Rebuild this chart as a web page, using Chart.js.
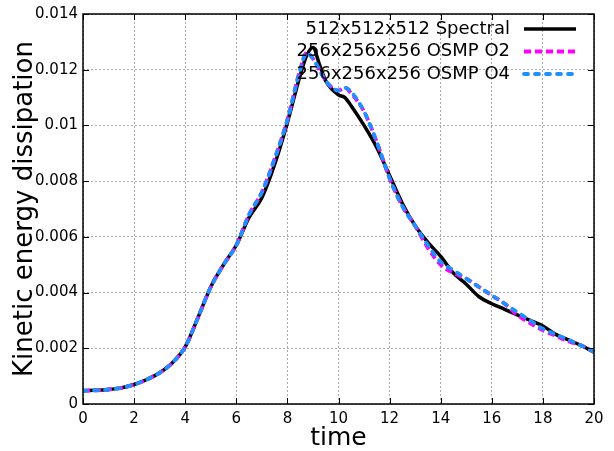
<!DOCTYPE html>
<html>
<head>
<meta charset="utf-8">
<script src="https://cdn.jsdelivr.net/npm/chart.js@4/dist/chart.umd.min.js"></script>
<style>
  html, body { margin: 0; padding: 0; background: #fff; }
  #wrap { width: 614px; height: 451px; }
</style>
</head>
<body>
<div id="wrap"><canvas id="chart1" width="614" height="451"></canvas></div>
<script>
// ====== data ======
const times = [0,0.5,1,1.5,2,2.5,3,3.5,4,4.5,5,5.5,6,6.5,7,7.5,8,8.5,8.75,9,9.25,9.5,10,10.25,10.5,11,11.5,12,12.5,13,13.5,14,14.5,15,15.5,16,16.5,17,17.5,18,18.5,19,19.5,20];

const spectral = [0.00048,0.00049,0.00052,0.00058,0.00070,0.00088,0.00112,0.00148,0.00205,0.0031,0.0042,0.0050,0.0057,
  0.0067,0.0074,0.0086,0.0101,0.0118,0.0125,0.0128,0.0122,0.0116,0.0111,0.0110,0.0107,0.0100,0.0092,0.0082,
  0.0072,0.0064,0.0058,0.0053,0.0047,0.0043,0.00385,0.0036,0.0034,0.0032,0.0030,0.0028,0.0025,0.0023,0.0021,0.00186];

const osmpO2 = [0.00048,0.00049,0.00052,0.00058,0.00070,0.00088,0.00112,0.00148,0.00205,0.0031,0.0042,0.0050,0.0057,
  0.0068,0.0076,0.0088,0.0102,0.0120,0.0126,0.0124,0.0120,0.0116,0.01125,0.01135,0.01115,0.0105,0.0094,0.0081,
  0.0071,0.0064,0.0056,0.0050,0.0047,0.0045,0.0042,0.0039,0.0036,0.0032,0.0029,0.00265,0.00245,0.00225,0.0021,0.00187];

const osmpO4 = [0.00048,0.00049,0.00052,0.00058,0.00070,0.00088,0.00112,0.00148,0.00205,0.0031,0.0042,0.0050,0.0057,
  0.0068,0.0076,0.0088,0.0102,0.0120,0.0126,0.0124,0.0120,0.0116,0.01125,0.01135,0.0112,0.0105,0.0094,0.0081,
  0.0071,0.0064,0.0057,0.0051,0.0048,0.0045,0.0042,0.0039,0.0036,0.0033,0.0030,0.0027,0.0025,0.0023,0.0021,0.00187];

const seriesLabels = ['512x512x512 Spectral', '256x256x256 OSMP O2', '256x256x256 OSMP O4'];
const xTicks = [0,2,4,6,8,10,12,14,16,18,20];
const yTicks = [0,0.002,0.004,0.006,0.008,0.01,0.012,0.014];

const FONT = "'DejaVu Sans', sans-serif";
const pts = arr => arr.map((v, i) => ({x: times[i], y: v}));

// box + inward ticks on all four sides, legend at top right
const framePlugin = {
  id: 'frame',
  afterDraw(chart) {
    const {ctx, chartArea: a, scales: {x, y}} = chart;
    ctx.save();
    ctx.strokeStyle = '#000';
    ctx.lineWidth = 1;
    ctx.beginPath();
    xTicks.forEach(t => {
      const px = Math.round(x.getPixelForValue(t)) + 0.5;
      ctx.moveTo(px, a.bottom); ctx.lineTo(px, a.bottom - 6);
      ctx.moveTo(px, a.top); ctx.lineTo(px, a.top + 6);
    });
    yTicks.forEach(t => {
      const py = Math.round(y.getPixelForValue(t)) + 0.5;
      ctx.moveTo(a.left, py); ctx.lineTo(a.left + 6, py);
      ctx.moveTo(a.right, py); ctx.lineTo(a.right - 6, py);
    });
    ctx.stroke();
    ctx.lineWidth = 1.5;
    ctx.strokeRect(a.left, a.top, a.right - a.left, a.bottom - a.top);

    // legend
    ctx.font = '18px ' + FONT;
    ctx.textAlign = 'right';
    ctx.textBaseline = 'middle';
    chart.data.datasets.forEach((ds, i) => {
      const ly = a.top + 15 + i * 22.5;
      ctx.fillStyle = '#000';
      ctx.fillText(ds.label, a.right - 84, ly);
      ctx.beginPath();
      ctx.strokeStyle = ds.borderColor;
      ctx.lineWidth = ds.borderWidth;
      ctx.lineCap = ds.borderCapStyle || 'butt';
      ctx.setLineDash(ds.borderDash || []);
      ctx.moveTo(a.right - 70, ly);
      ctx.lineTo(a.right - 18, ly);
      ctx.stroke();
      ctx.setLineDash([]);
    });
    ctx.restore();
  }
};

const ctx = document.getElementById('chart1');
new Chart(ctx, {
  type: 'line',
  data: {
    datasets: [
      { label: seriesLabels[0], data: pts(spectral), borderColor: '#000000', borderWidth: 3.5, order: 3 },
      { label: seriesLabels[1], data: pts(osmpO2), borderColor: '#ff00ff', borderWidth: 3.8, borderDash: [7, 4], order: 2 },
      { label: seriesLabels[2], data: pts(osmpO4), borderColor: '#1e90ff', borderWidth: 3.8, borderDash: [4, 7], borderCapStyle: 'round', order: 1 }
    ]
  },
  options: {
    responsive: false,
    animation: false,
    events: [],
    layout: { padding: { top: 10, right: 20, left: 0, bottom: 0 } },
    elements: { point: { radius: 0 }, line: { cubicInterpolationMode: 'monotone', fill: false } },
    plugins: { legend: { display: false }, tooltip: { enabled: false } },
    scales: {
      x: {
        type: 'linear', min: 0, max: 20,
        afterBuildTicks: s => { s.ticks = xTicks.map(v => ({value: v})); },
        afterFit: s => { s.height = 47; },
        ticks: { color: '#000', font: { family: FONT, size: 15 }, padding: 6, maxRotation: 0 },
        grid: { color: '#aaaaaa', lineWidth: 1, drawTicks: false },
        border: { display: false, dash: [2, 2] },
        title: { display: true, text: 'time', color: '#000', font: { family: FONT, size: 25, lineHeight: 1.04 }, padding: { top: 0, bottom: 0 } }
      },
      y: {
        type: 'linear', min: 0, max: 0.014,
        afterBuildTicks: s => { s.ticks = yTicks.map(v => ({value: v})); },
        afterFit: s => { s.width = 83; },
        ticks: {
          color: '#000', font: { family: FONT, size: 15 }, padding: 5,
          callback: v => v === 0 ? '0' : String(+v.toFixed(3))
        },
        grid: { color: '#aaaaaa', lineWidth: 1, drawTicks: false },
        border: { display: false, dash: [2, 2] },
        title: { display: true, text: 'Kinetic energy dissipation', color: '#000', font: { family: FONT, size: 26 }, padding: { top: 10, bottom: 0 } }
      }
    }
  },
  plugins: [framePlugin]
});
</script>
</body>
</html>
